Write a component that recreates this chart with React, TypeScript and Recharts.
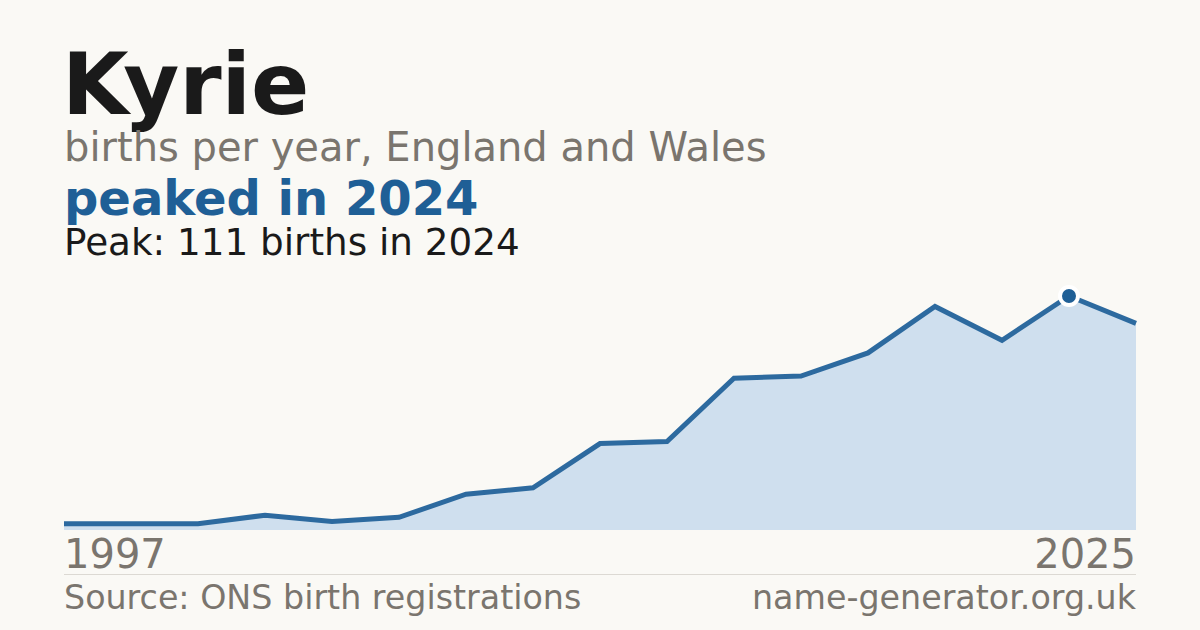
import { AreaChart, Area, XAxis, YAxis, ReferenceDot } from "recharts";

const years = [1997, 2010, 2011, 2012, 2013, 2014, 2015, 2016, 2017, 2018, 2019, 2020, 2021, 2022, 2023, 2024, 2025];
const births = [3, 3, 3, 7, 4, 6, 17, 20, 41, 42, 72, 73, 84, 106, 90, 111, 98];
const edgeTicks = [1997, 2025];
const peakYear = 2024;
const peakBirths = 111;

const chartData = years.map((year, i) => ({ year, births: births[i] }));

const FONT = "'DejaVu Sans', Verdana, sans-serif";
const GREY = "#7a756e";
const BLUE = "#1f5f96";

function YearTick(props: any) {
  const { x, y, payload } = props;
  const first = payload.value === edgeTicks[0];
  return (
    <text
      x={x}
      y={y + 30}
      textAnchor={first ? "start" : "end"}
      fontFamily={FONT}
      fontSize={40}
      fill={GREY}
    >
      {payload.value}
    </text>
  );
}

export default function App() {
  return (
    <div
      style={{
        position: "absolute",
        top: 0,
        left: 0,
        width: 1200,
        height: 630,
        background: "#faf9f5",
        overflow: "hidden",
      }}
    >
      <svg width={1200} height={630} style={{ position: "absolute", top: 0, left: 0 }}>
        <text x={62} y={114} fontFamily={FONT} fontSize={86} fontWeight="bold" fill="#1a1a1a">
          Kyrie
        </text>
        <text x={64} y={161} fontFamily={FONT} fontSize={40} fill={GREY}>
          births per year, England and Wales
        </text>
        <text x={64} y={215} fontFamily={FONT} fontSize={48} fontWeight="bold" fill={BLUE}>
          peaked in {peakYear}
        </text>
        <text x={64} y={255} fontFamily={FONT} fontSize={37.3} fill="#1a1a1a">
          Peak: {peakBirths} births in {peakYear}
        </text>
        <line x1={64} x2={1136} y1={574.5} y2={574.5} stroke="#dcd9d3" strokeWidth={1} />
        <text x={64} y={609} fontFamily={FONT} fontSize={33.3} fill={GREY}>
          Source: ONS birth registrations
        </text>
        <text x={1136} y={609} textAnchor="end" fontFamily={FONT} fontSize={33.3} fill={GREY}>
          name-generator.org.uk
        </text>
      </svg>

      <div style={{ position: "absolute", top: 0, left: 0 }}>
        <AreaChart
          width={1200}
          height={630}
          data={chartData}
          margin={{ top: 277, right: 64, bottom: 60, left: 64 }}
        >
          <XAxis
            dataKey="year"
            type="category"
            ticks={edgeTicks}
            interval={0}
            axisLine={false}
            tickLine={false}
            height={40}
            tick={<YearTick />}
          />
          <YAxis hide domain={[0, 120]} />
          <Area
            type="linear"
            dataKey="births"
            stroke="#2d6a9f"
            strokeWidth={5}
            fill="#cfdfee"
            fillOpacity={1}
            dot={false}
            activeDot={false}
            isAnimationActive={false}
          />
          <ReferenceDot
            x={peakYear}
            y={peakBirths}
            r={9}
            fill={BLUE}
            stroke="#ffffff"
            strokeWidth={4}
          />
        </AreaChart>
      </div>
    </div>
  );
}
